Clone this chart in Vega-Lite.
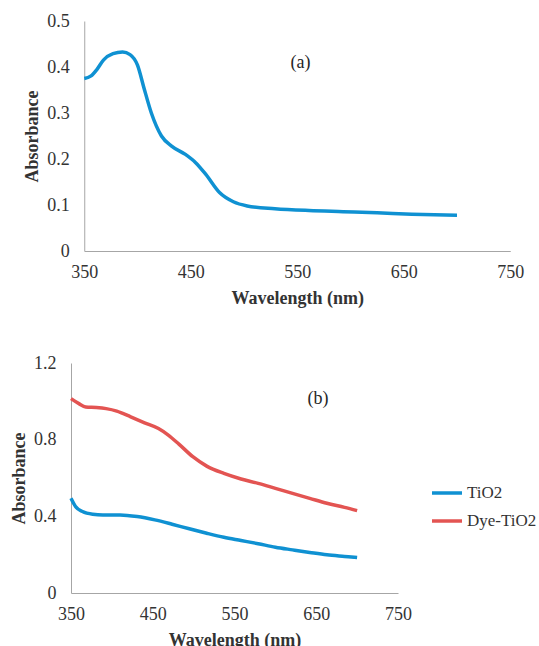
{
  "$schema": "https://vega.github.io/schema/vega-lite/v6.json",
  "background": "white",
  "padding": {"left": 10, "top": 12, "right": 0, "bottom": 0},
  "spacing": 47,
  "center": true,
  "align": "each",
  "resolve": {"legend": {"color": "independent"}, "scale": {"color": "independent"}},
  "datasets": {
    "a": [
      {"wavelength": 350, "absorbance": 0.375},
      {"wavelength": 356, "absorbance": 0.380},
      {"wavelength": 362, "absorbance": 0.395},
      {"wavelength": 368, "absorbance": 0.415},
      {"wavelength": 377, "absorbance": 0.429},
      {"wavelength": 386, "absorbance": 0.4326},
      {"wavelength": 393, "absorbance": 0.427},
      {"wavelength": 400, "absorbance": 0.404},
      {"wavelength": 406, "absorbance": 0.355},
      {"wavelength": 413, "absorbance": 0.300},
      {"wavelength": 422.5, "absorbance": 0.250},
      {"wavelength": 432, "absorbance": 0.228},
      {"wavelength": 445, "absorbance": 0.210},
      {"wavelength": 454.6, "absorbance": 0.192},
      {"wavelength": 464, "absorbance": 0.167},
      {"wavelength": 477, "absorbance": 0.127},
      {"wavelength": 490, "absorbance": 0.107},
      {"wavelength": 503, "absorbance": 0.098},
      {"wavelength": 529, "absorbance": 0.092},
      {"wavelength": 561, "absorbance": 0.088},
      {"wavelength": 593, "absorbance": 0.0855},
      {"wavelength": 625, "absorbance": 0.083},
      {"wavelength": 657.6, "absorbance": 0.080},
      {"wavelength": 700, "absorbance": 0.0775}
    ],
    "b": [
      {"series": "Dye-TiO2", "wavelength": 350, "absorbance": 1.014},
      {"series": "Dye-TiO2", "wavelength": 359.7, "absorbance": 0.988},
      {"series": "Dye-TiO2", "wavelength": 368, "absorbance": 0.971},
      {"series": "Dye-TiO2", "wavelength": 381, "absorbance": 0.968},
      {"series": "Dye-TiO2", "wavelength": 393, "absorbance": 0.962},
      {"series": "Dye-TiO2", "wavelength": 406, "absorbance": 0.949},
      {"series": "Dye-TiO2", "wavelength": 423, "absorbance": 0.919},
      {"series": "Dye-TiO2", "wavelength": 440, "absorbance": 0.888},
      {"series": "Dye-TiO2", "wavelength": 457, "absorbance": 0.858},
      {"series": "Dye-TiO2", "wavelength": 469, "absorbance": 0.824},
      {"series": "Dye-TiO2", "wavelength": 482, "absorbance": 0.777},
      {"series": "Dye-TiO2", "wavelength": 499, "absorbance": 0.711},
      {"series": "Dye-TiO2", "wavelength": 516, "absorbance": 0.662},
      {"series": "Dye-TiO2", "wavelength": 537, "absorbance": 0.624},
      {"series": "Dye-TiO2", "wavelength": 558, "absorbance": 0.595},
      {"series": "Dye-TiO2", "wavelength": 579, "absorbance": 0.572},
      {"series": "Dye-TiO2", "wavelength": 600, "absorbance": 0.546},
      {"series": "Dye-TiO2", "wavelength": 621, "absorbance": 0.520},
      {"series": "Dye-TiO2", "wavelength": 642, "absorbance": 0.494},
      {"series": "Dye-TiO2", "wavelength": 663, "absorbance": 0.468},
      {"series": "Dye-TiO2", "wavelength": 684.6, "absorbance": 0.447},
      {"series": "Dye-TiO2", "wavelength": 700, "absorbance": 0.430},
      {"series": "TiO2", "wavelength": 350, "absorbance": 0.494},
      {"series": "TiO2", "wavelength": 355.5, "absorbance": 0.451},
      {"series": "TiO2", "wavelength": 364, "absorbance": 0.425},
      {"series": "TiO2", "wavelength": 376.6, "absorbance": 0.411},
      {"series": "TiO2", "wavelength": 389, "absorbance": 0.4075},
      {"series": "TiO2", "wavelength": 410, "absorbance": 0.4075},
      {"series": "TiO2", "wavelength": 431, "absorbance": 0.399},
      {"series": "TiO2", "wavelength": 452.5, "absorbance": 0.3815},
      {"series": "TiO2", "wavelength": 473.6, "absorbance": 0.359},
      {"series": "TiO2", "wavelength": 494.7, "absorbance": 0.335},
      {"series": "TiO2", "wavelength": 516, "absorbance": 0.312},
      {"series": "TiO2", "wavelength": 537, "absorbance": 0.291},
      {"series": "TiO2", "wavelength": 558, "absorbance": 0.274},
      {"series": "TiO2", "wavelength": 579, "absorbance": 0.257},
      {"series": "TiO2", "wavelength": 600, "absorbance": 0.239},
      {"series": "TiO2", "wavelength": 621, "absorbance": 0.225},
      {"series": "TiO2", "wavelength": 642, "absorbance": 0.2115},
      {"series": "TiO2", "wavelength": 663, "absorbance": 0.199},
      {"series": "TiO2", "wavelength": 684.6, "absorbance": 0.191},
      {"series": "TiO2", "wavelength": 700, "absorbance": 0.1855}
    ],
    "labA": [{"label": "(a)", "wavelength": 553, "absorbance": 0.409}],
    "labB": [{"label": "(b)", "wavelength": 652, "absorbance": 1.014}]
  },
  "vconcat": [
    {
      "width": 426,
      "height": 230,
      "layer": [
        {
          "data": {"name": "a"},
          "mark": {"type": "line", "interpolate": "monotone", "strokeWidth": 3.5, "color": "#0F91D2"},
          "encoding": {
            "x": {"field": "wavelength", "type": "quantitative", "scale": {"domain": [350, 750], "nice": false, "zero": false},
                  "axis": {"title": "Wavelength (nm)", "values": [350, 450, 550, 650, 750]}},
            "y": {"field": "absorbance", "type": "quantitative", "scale": {"domain": [0, 0.5], "nice": false},
                  "axis": {"title": "Absorbance", "values": [0, 0.1, 0.2, 0.3, 0.4, 0.5], "format": ".1~f"}}
          }
        },
        {
          "data": {"name": "labA"},
          "mark": {"type": "text", "fontSize": 18, "color": "#262626", "font": "Liberation Serif"},
          "encoding": {
            "x": {"field": "wavelength", "type": "quantitative"},
            "y": {"field": "absorbance", "type": "quantitative"},
            "text": {"field": "label"}
          }
        }
      ]
    },
    {
      "width": 327,
      "height": 230,
      "resolve": {"legend": {"color": "independent"}},
      "layer": [
        {
          "data": {"name": "b"},
          "mark": {"type": "line", "interpolate": "monotone", "strokeWidth": 3.5},
          "encoding": {
            "x": {"field": "wavelength", "type": "quantitative", "scale": {"domain": [350, 750], "nice": false, "zero": false},
                  "axis": {"title": "Wavelength (nm)", "values": [350, 450, 550, 650, 750]}},
            "y": {"field": "absorbance", "type": "quantitative", "scale": {"domain": [0, 1.2], "nice": false},
                  "axis": {"title": "Absorbance", "values": [0, 0.4, 0.8, 1.2], "format": ".1~f"}},
            "color": {"field": "series", "type": "nominal",
                      "scale": {"domain": ["TiO2", "Dye-TiO2"], "range": ["#0F91D2", "#E35452"]},
                      "legend": {"title": null, "orient": "none", "legendX": 359, "legendY": 113}}
          }
        },
        {
          "data": {"name": "labB"},
          "mark": {"type": "text", "fontSize": 18, "color": "#262626", "font": "Liberation Serif"},
          "encoding": {
            "x": {"field": "wavelength", "type": "quantitative"},
            "y": {"field": "absorbance", "type": "quantitative"},
            "text": {"field": "label"}
          }
        }
      ]
    }
  ],
  "config": {
    "font": "Liberation Serif",
    "view": {"stroke": null},
    "axis": {
      "grid": false,
      "ticks": false,
      "domainColor": "#a6a6a6",
      "domainWidth": 1,
      "labelFont": "Liberation Serif",
      "labelFontSize": 18,
      "labelColor": "#333333",
      "titleFont": "Liberation Serif",
      "titleFontSize": 18,
      "titleFontWeight": "bold",
      "titleColor": "#333333"
    },
    "axisX": {"labelPadding": 12, "titlePadding": 8, "labelFlush": false},
    "axisY": {"labelPadding": 15, "titlePadding": 5, "labelFlush": false},
    "legend": {
      "labelFont": "Liberation Serif",
      "labelFontSize": 17,
      "labelColor": "#333333",
      "symbolType": "stroke",
      "symbolSize": 900,
      "symbolStrokeWidth": 3.5,
      "labelOffset": 3,
      "rowPadding": 3,
      "padding": 0
    }
  }
}
